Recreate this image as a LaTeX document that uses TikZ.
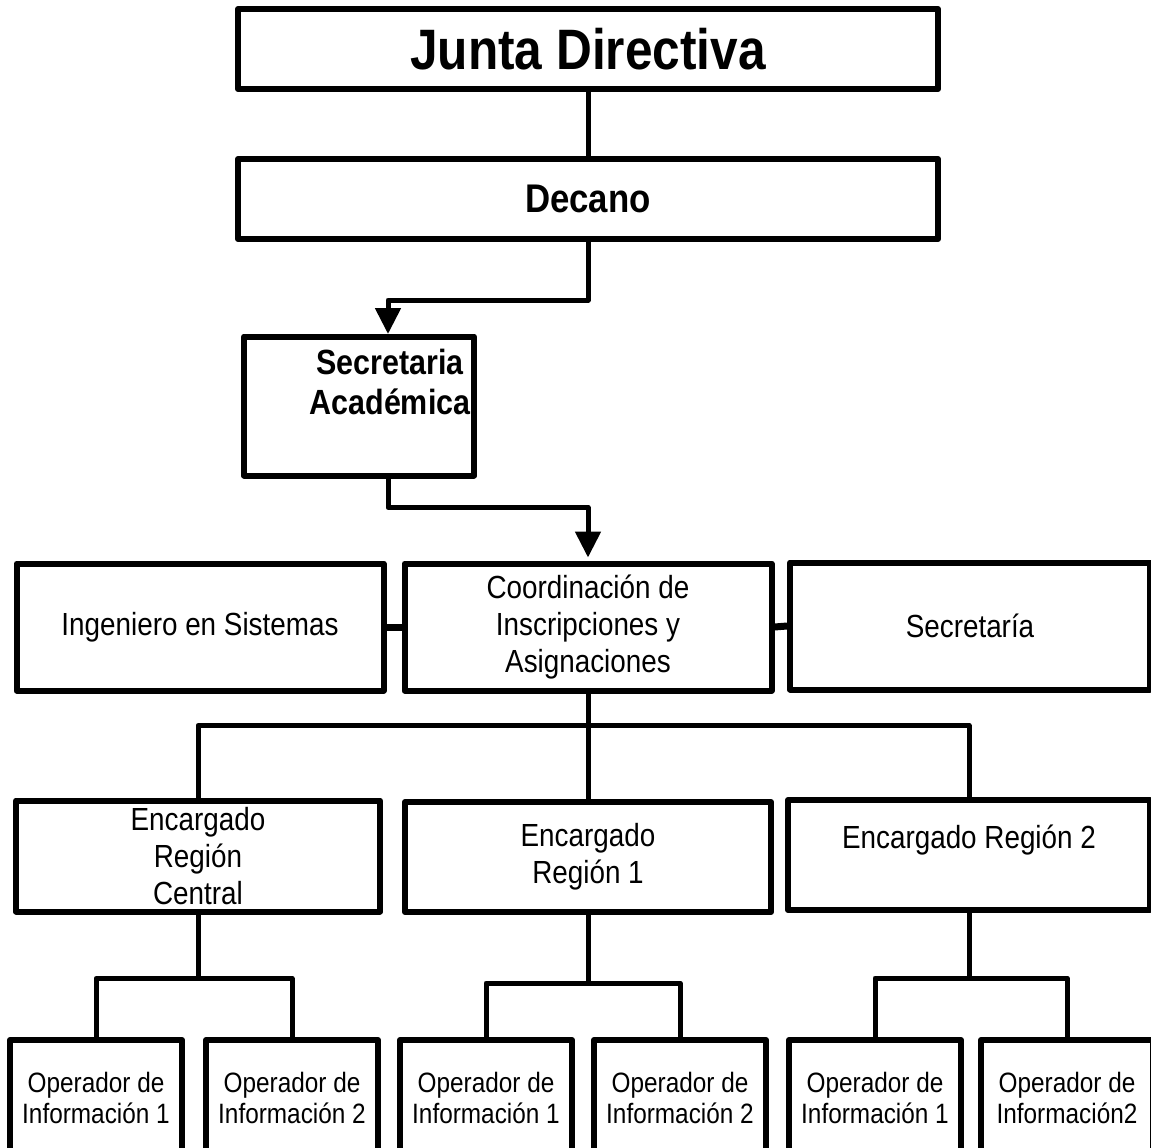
\documentclass[tikz,border=0pt]{standalone}
\usepackage{fontspec}
\setmainfont{Liberation Sans}[FakeStretch=0.87]
\usetikzlibrary{arrows.meta,calc}
\begin{document}
\begin{tikzpicture}[x=1pt,y=-1pt,
  box/.style={draw, line width=6pt, rectangle, inner sep=0pt, align=center, line join=round},
  reg/.style={font=\fontsize{32}{37}\selectfont},
  op/.style={font=\fontsize{28}{31}\selectfont, minimum width=172pt, minimum height=116pt},
  conn/.style={line width=5pt, line join=round},
  tip/.style={-{Triangle[length=26pt,width=25pt]}, shorten >=3pt}]
\useasboundingbox (0,0) rectangle (1151,1148);
\clip (0,0) rectangle (1151,1148);
% level 1-2
\node[box, minimum width=700pt, minimum height=80pt, font=\bfseries\fontsize{57}{60}\selectfont] (junta) at (588,49) {Junta Directiva};
\node[box, minimum width=700pt, minimum height=80pt, font=\bfseries\fontsize{40}{44}\selectfont] (decano) at (588,199) {Decano};
\node[box, minimum width=230pt, minimum height=139pt,
  label={[font=\bfseries\fontsize{35}{40}\selectfont, align=center, xshift=31pt, yshift=24pt]center:{Secretaria\\Académica}}] (secr) at (359,406) {};
\coordinate (sIn) at (388,337);
% level 3
\node[box, reg, minimum width=367pt, minimum height=127pt] (ing) at (200,627) {Ingeniero en Sistemas};
\node[box, reg, minimum width=367pt, minimum height=127pt] (coord) at (588,627) {Coordinación de\\Inscripciones y\\Asignaciones};
\node[box, reg, minimum width=360pt, minimum height=127pt] (sec) at (970,626) {Secretaría};
% level 4
\node[box, reg, minimum width=364pt, minimum height=111pt] (cen) at (198,856) {Encargado\\Región\\Central};
\node[box, reg, minimum width=366pt, minimum height=110pt] (r1) at (588,857) {Encargado\\Región 1};
\node[box, reg, minimum width=362pt, minimum height=110pt] (r2) at (969,855) {Encargado Región 2\\\mbox{}};
% level 5
\node[box, op] (o1) at (96,1098) {Operador de\\Información 1};
\node[box, op] (o2) at (292,1098) {Operador de\\Información 2};
\node[box, op] (o3) at (486,1098) {Operador de\\Información 1};
\node[box, op] (o4) at (680,1098) {Operador de\\Información 2};
\node[box, op] (o5) at (875,1098) {Operador de\\Información 1};
\node[box, op] (o6) at (1067,1098) {Operador de\\Información2};
% connectors
\draw[conn] (junta.south) -- (decano.north);
\draw[conn, tip] (decano.south) -- ++(0,58) -| (sIn);
\draw[conn, tip] (secr.south -| sIn) -- ++(0,29) -| (coord.north);
\draw[conn, line width=7pt] (ing.east) -- (coord.west);
\draw[conn, line width=7pt] (coord.east) -- (sec.west);
\draw[conn] (coord.south) -- ++(0,32) coordinate (bus);
\draw[conn] (cen.north) |- (bus) -| (r2.north);
\draw[conn] (r1.north) -- (r1.north |- bus);
\draw[conn] (cen.south) -- ++(0,64) coordinate (b1);
\draw[conn] (o1.north) |- (b1) -| (o2.north);
\draw[conn] (r1.south) -- ++(0,68) coordinate (b2);
\draw[conn] (o3.north) |- (b2) -| (o4.north);
\draw[conn] (r2.south) -- ++(0,65) coordinate (b3);
\draw[conn] (o5.north) |- (b3) -| (o6.north);
\end{tikzpicture}
\end{document}
